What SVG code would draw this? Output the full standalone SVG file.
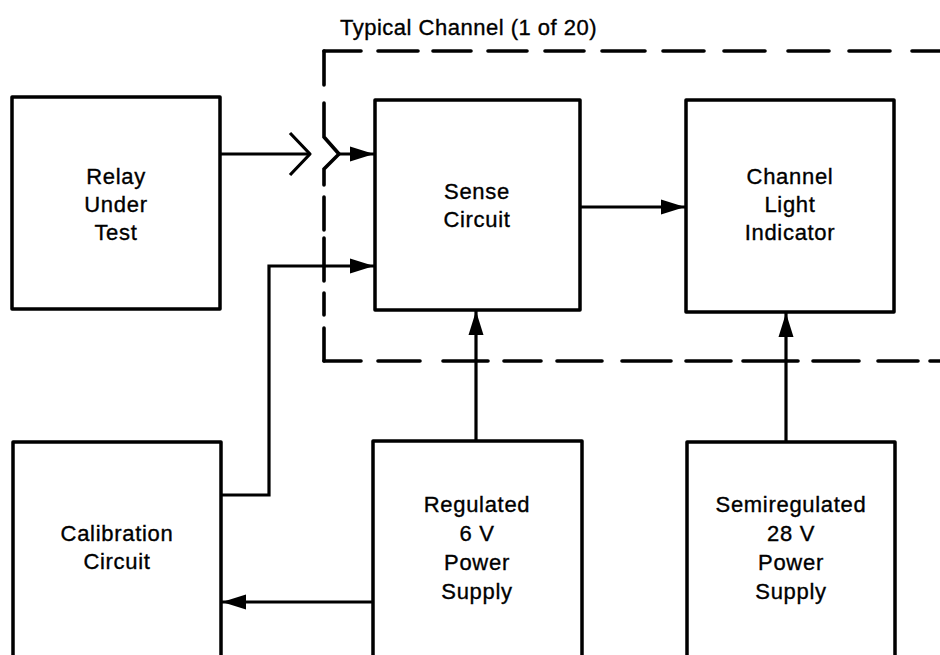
<svg xmlns="http://www.w3.org/2000/svg" width="940" height="655" viewBox="0 0 940 655">
<defs>
<marker id="ah" markerUnits="userSpaceOnUse" markerWidth="24" markerHeight="16" refX="24" refY="8" orient="auto">
<path d="M0,0.5 L24,8 L0,15.5 z" fill="#000"/>
</marker>
<style>
.box{fill:#fff;stroke:#000;stroke-width:3.5;stroke-linejoin:round}
.lbl{font-family:"Liberation Sans",Arial,Helvetica,sans-serif;font-size:22px;letter-spacing:0.7px;text-anchor:middle;fill:#000;stroke:#000;stroke-width:0.35}
.ttl{font-family:"Liberation Sans",Arial,Helvetica,sans-serif;font-size:22px;letter-spacing:0.5px;fill:#000;stroke:#000;stroke-width:0.35}
.ln{fill:none;stroke:#000;stroke-width:3.2;stroke-linejoin:round;stroke-linecap:butt}
.ar{fill:none;stroke:#000;stroke-width:3.2;marker-end:url(#ah)}
.dash{fill:none;stroke:#000;stroke-width:3.6;stroke-linecap:round}
</style>
</defs>
<rect width="940" height="655" fill="#fff"/>

<text class="ttl" x="340" y="35">Typical Channel (1 of 20)</text>

<g id="boundary">
<path class="dash" d="M324,51 H361 M378,51 H418 M433,51 H471 M488,51 H527 M545,51 H584 M602,51 H645 M663,51 H704 M724,51 H765 M788,51 H829 M849,51 H890 M912,51 H942"/>
<path class="dash" d="M324,51 V85 M324,103 V137 L339,154 L324,169 V185 M324,197 V230 M324,238 V281 M324,293 V315 M324,328 V361"/>
<path class="dash" d="M324,361 H361 M378,361 H420 M443,361 H488 M504,361 H541 M557,361 H602 M622,361 H671 M686,361 H731 M743,361 H798 M813,361 H859 M878,361 H918 M930,361 H942"/>
</g>

<g id="node-relay">
<rect class="box" x="12" y="97" width="208" height="212"/>
<text class="lbl" x="116" y="184">Relay</text>
<text class="lbl" x="116" y="212">Under</text>
<text class="lbl" x="116" y="240">Test</text>
</g>

<g id="node-sense">
<rect class="box" x="375" y="100" width="205" height="210"/>
<text class="lbl" x="477" y="199">Sense</text>
<text class="lbl" x="477" y="227">Circuit</text>
</g>

<g id="node-channel">
<rect class="box" x="686" y="100" width="208" height="212"/>
<text class="lbl" x="790" y="184">Channel</text>
<text class="lbl" x="790" y="212">Light</text>
<text class="lbl" x="790" y="240">Indicator</text>
</g>

<g id="node-calibration">
<rect class="box" x="13" y="442" width="208" height="240"/>
<text class="lbl" x="117" y="541">Calibration</text>
<text class="lbl" x="117" y="569">Circuit</text>
</g>

<g id="node-regulated">
<rect class="box" x="373" y="441" width="209" height="240"/>
<text class="lbl" x="477" y="512">Regulated</text>
<text class="lbl" x="477" y="541">6 V</text>
<text class="lbl" x="477" y="570">Power</text>
<text class="lbl" x="477" y="599">Supply</text>
</g>

<g id="node-semiregulated">
<rect class="box" x="687" y="442" width="208" height="240"/>
<text class="lbl" x="791" y="512">Semiregulated</text>
<text class="lbl" x="791" y="541">28 V</text>
<text class="lbl" x="791" y="570">Power</text>
<text class="lbl" x="791" y="599">Supply</text>
</g>

<g id="connectors">
<path class="ln" d="M220,154 H309"/>
<path class="ln" d="M290,133 L310,154 L290,175"/>
<path class="ar" d="M339,154 H374"/>
<path class="ar" d="M221,495 H269 V266 H374"/>
<path class="ar" d="M580,207 H685"/>
<path class="ar" d="M476,441 V311"/>
<path class="ar" d="M786,442 V313"/>
<path class="ar" d="M373,602 H222"/>
</g>
</svg>
